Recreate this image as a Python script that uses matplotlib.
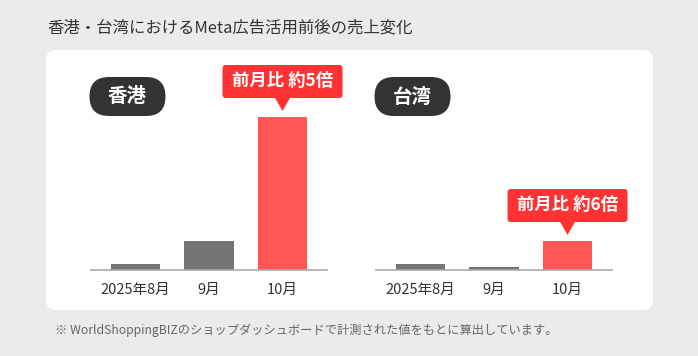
import matplotlib as mpl
mpl.use('Agg')
import matplotlib.pyplot as plt
from matplotlib.patches import FancyBboxPatch, Polygon

plt.rcParams['font.family'] = ['Noto Sans CJK JP', 'DejaVu Sans']

# data (bar heights, arbitrary units)
months = ['2025年8月', '9月', '10月']
hk_sales = [6, 29, 153]
tw_sales = [6, 3, 29]
regions = ['香港', '台湾']
callouts = ['前月比 約5倍', '前月比 約6倍']
title = '香港・台湾におけるMeta広告活用前後の売上変化'
note = '※ WorldShoppingBIZのショップダッシュボードで計測された値をもとに算出しています。'

W, H = 698, 356
fig = plt.figure(figsize=(W / 100, H / 100), dpi=100)
fig.patch.set_facecolor('#ebebeb')

# background axes in pixel coordinates (y down)
bg = fig.add_axes([0, 0, 1, 1])
bg.set_xlim(0, W)
bg.set_ylim(H, 0)
bg.axis('off')

bg.add_patch(FancyBboxPatch((46, 50), 607, 260, boxstyle='round,pad=0,rounding_size=10',
                            fc='white', ec='none'))
bg.text(47, 28, title, fontsize=11.8, color='#333333', va='center', ha='left')
bg.text(55, 330, note, fontsize=8.8, color='#666666', va='center', ha='left')


def px_axes(left, top, right, bottom):
    return fig.add_axes([left / W, 1 - bottom / H, (right - left) / W, (bottom - top) / H])


grey = '#757575'
red_bar = '#ff5656'
red_box = '#ff3333'

panels = [(91, 327, hk_sales), (376, 612, tw_sales)]
for i, (x0, x1, vals) in enumerate(panels):
    ax = px_axes(x0, 60, x1, 270)
    ax.set_xlim(-0.605, 2.605)
    ax.set_ylim(0, 210)
    ax.patch.set_alpha(0)
    colors = [grey, grey, red_bar]
    ax.bar(range(3), vals, width=0.667, color=colors)
    for s in ['top', 'right', 'left']:
        ax.spines[s].set_visible(False)
    ax.spines['bottom'].set_color('#aaaaaa')
    ax.spines['bottom'].set_linewidth(1.2)
    ax.set_yticks([])
    ax.set_xticks(range(3))
    ax.set_xticklabels(months, fontsize=10.5, color='#333333')
    ax.tick_params(axis='x', length=0, pad=9)

    # region pill
    px = x0 - 1.5
    bg.add_patch(FancyBboxPatch((px, 77), 76, 39,
                                boxstyle='round,pad=0,rounding_size=19.5',
                                fc='#333333', ec='none'))
    bg.text(px + 38, 97, regions[i], fontsize=14, color='white',
            ha='center', va='center', fontweight='bold')

    # callout above the red bar
    disp = ax.transData.transform((2, vals[2]))
    cx, top = bg.transData.inverted().transform(disp)
    tip = top - 6
    bx, by = cx - 60, tip - 46
    bg.add_patch(FancyBboxPatch((bx, by), 120, 33, boxstyle='round,pad=0,rounding_size=3',
                                fc=red_box, ec='none'))
    bg.add_patch(Polygon([(cx - 8, by + 32), (cx + 8, by + 32), (cx, tip)],
                         closed=True, fc=red_box, ec='none'))
    bg.text(cx, by + 16.5, callouts[i], fontsize=12.5, color='white',
            ha='center', va='center', fontweight='bold')

fig.savefig('out.png', dpi=100, facecolor=fig.get_facecolor())
